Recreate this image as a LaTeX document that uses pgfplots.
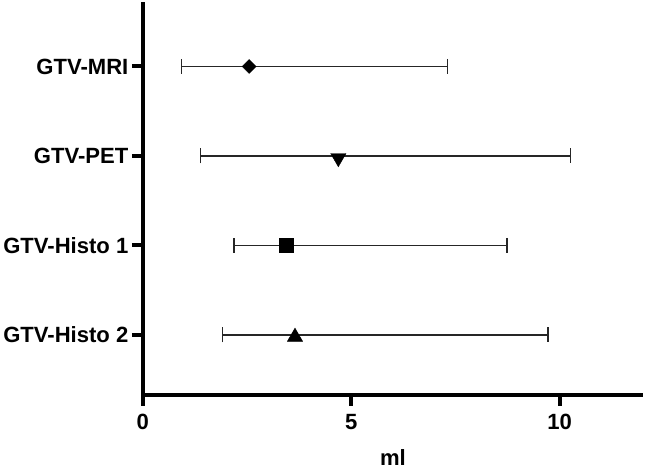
\documentclass[border=0pt]{standalone}
\usepackage{pgfplots}
\pgfplotsset{compat=1.18}
\usepackage{fontspec}
\setmainfont{Liberation Sans}
\begin{document}
\begin{tikzpicture}
\begin{axis}[
    scale only axis,
    width=499pt, height=392pt,
    xmin=0, xmax=12, ymin=0.33, ymax=4.72,
    axis x line=bottom, axis y line=left,
    axis line style={-, line width=4pt},
    xtick={0,5,10}, ytick={1,2,3,4},
    yticklabels={GTV-Histo 2, GTV-Histo 1, GTV-PET, GTV-MRI},
    tick align=outside, major tick length=11pt,
    tick style={line width=4pt, black},
    ticklabel style={font=\fontsize{22}{26}\selectfont\bfseries},
    xticklabel style={yshift=-5pt},
    /pgf/number format/assume math mode=true,
    xlabel={ml},
    xlabel style={font=\fontsize{22}{26}\selectfont\bfseries, yshift=-13pt},
    every axis plot/.append style={only marks, black},
    error bars/error bar style={line width=1.5pt, black!85},
    error bars/error mark options={rotate=90, line width=1.5pt, mark size=7.5pt, black!85},
  ]
  % GTV-MRI
  \addplot[mark=square*, mark size=4.9pt, mark options={rotate=45},
    error bars/.cd, x dir=both, x explicit]
    coordinates {(2.55,4) += (4.76,0) -= (1.62,0)};
  % GTV-PET
  \addplot[mark=triangle*, mark size=8.8pt, mark options={rotate=180, yshift=2pt},
    error bars/.cd, x dir=both, x explicit]
    coordinates {(4.69,3) += (5.57,0) -= (3.31,0)};
  % GTV-Histo 1
  \addplot[mark=square*, mark size=7pt,
    error bars/.cd, x dir=both, x explicit]
    coordinates {(3.45,2) += (5.29,0) -= (1.26,0)};
  % GTV-Histo 2
  \addplot[mark=triangle*, mark size=8.8pt, mark options={yshift=-2pt},
    error bars/.cd, x dir=both, x explicit]
    coordinates {(3.65,1) += (6.07,0) -= (1.74,0)};
\end{axis}
\end{tikzpicture}
\end{document}
